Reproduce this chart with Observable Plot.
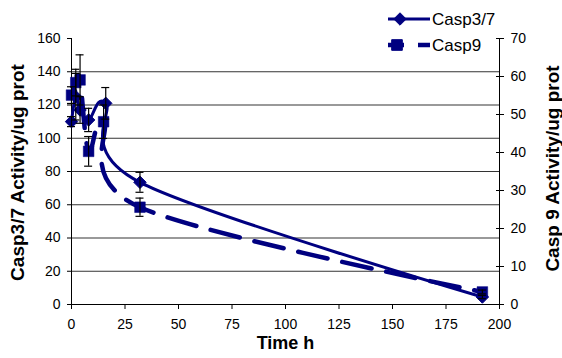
<!DOCTYPE html>
<html><head><meta charset="utf-8">
<script src="https://cdn.jsdelivr.net/npm/d3@7"></script>
<script src="https://cdn.jsdelivr.net/npm/@observablehq/plot@0.6"></script>
<style>
body{margin:0;background:#fff;font-family:"Liberation Sans",Arial,sans-serif}
#wrap{position:relative;width:562px;height:358px}
#legend{position:absolute;left:0;top:0}
</style></head><body>
<div id="wrap"><div id="chart"></div><svg id="legend" width="562" height="70"></svg></div>
<script>
// Casp3/7 series (left axis units)
const hours37 = [0, 2, 4, 8, 16, 32, 192];
const casp37 = [110, 125, 117, 111, 121, 73.5, 4.5];
const casp37Err = [3, 14, 8, 7, 9.5, 6, 1];
// Casp9 series (right axis units)
const hours9 = [0, 2, 4, 8, 15, 32, 192];
const casp9 = [55.1, 58.4, 59.1, 40.3, 48.1, 25.6, 3.3];
const casp9Err = [2.2, 3.5, 6.6, 3.9, 4.4, 2.4, 0.5];
// ticks and labels
const leftTicks = [0, 20, 40, 60, 80, 100, 120, 140, 160];
const rightTicks = [0, 10, 20, 30, 40, 50, 60, 70];
const xTicks = [0, 25, 50, 75, 100, 125, 150, 175, 200];
const seriesNames = ["Casp3/7", "Casp9"];
const xTitle = "Time h";
const leftTitle = "Casp3/7 Activity/ug prot";
const rightTitle = "Casp 9 Activity/ug prot";

const navy = "#000080";
const k = 160 / 70; // right axis -> left axis units

const rows37 = hours37.map((t, i) => ({t, v: casp37[i], e: casp37Err[i]}));
const rows9 = hours9.map((t, i) => ({t, v: casp9[i] * k, e: casp9Err[i] * k}));

const chart = Plot.plot({
  width: 562, height: 358,
  marginLeft: 71, marginRight: 63, marginTop: 38, marginBottom: 54,
  x: {domain: [0, 200]},
  y: {domain: [0, 160]},
  style: {fontFamily: "'Liberation Sans', Arial, sans-serif", fontSize: "14px", color: "#000", background: "#fff"},
  marks: [
    Plot.gridY(leftTicks.filter(d => d > 0 && d < 160), {stroke: "#000", strokeOpacity: 0.8}),
    Plot.ruleX([0], {stroke: "#000"}),
    Plot.ruleX([200], {stroke: "#000"}),
    Plot.ruleY([0], {stroke: "#000"}),
    Plot.axisY(leftTicks, {anchor: "left", tickSize: 4, tickPadding: 7, label: null, fontSize: 14}),
    Plot.axisY(rightTicks.map(d => d * k), {anchor: "right", tickSize: 4, tickPadding: 7, label: null, fontSize: 14, tickFormat: d => Math.round(d / k)}),
    Plot.axisY(rightTicks.map(d => d * k), {anchor: "right", tickSize: -4, label: null, tickFormat: () => ""}),
    Plot.axisX(xTicks, {anchor: "bottom", tickSize: 5, tickPadding: 10, label: null, fontSize: 14}),
    Plot.line(rows37, {x: "t", y: "v", stroke: navy, strokeWidth: 3, curve: "cardinal"}),
    Plot.line(rows9, {x: "t", y: "v", stroke: navy, strokeWidth: 4.5, strokeDasharray: "30,15", curve: "cardinal"}),
    Plot.dot(rows37, {x: "t", y: "v", symbol: "diamond2", r: 5.6, fill: navy, stroke: navy, strokeWidth: 1}),
    Plot.dot(rows9, {x: "t", y: "v", symbol: "square", r: 6, fill: navy, stroke: navy, strokeWidth: 0.5}),
    // error bars
    Plot.ruleX(rows37, {x: "t", y1: d => d.v - d.e, y2: d => d.v + d.e, stroke: "#000", strokeWidth: 1.2}),
    Plot.ruleY(rows37, {y: d => d.v + d.e, x1: "t", x2: "t", insetLeft: -4, insetRight: -4, stroke: "#000", strokeWidth: 1.2}),
    Plot.ruleY(rows37, {y: d => d.v - d.e, x1: "t", x2: "t", insetLeft: -4, insetRight: -4, stroke: "#000", strokeWidth: 1.2}),
    Plot.ruleX(rows9, {x: "t", y1: d => d.v - d.e, y2: d => d.v + d.e, stroke: "#000", strokeWidth: 1.2}),
    Plot.ruleY(rows9, {y: d => d.v + d.e, x1: "t", x2: "t", insetLeft: -4, insetRight: -4, stroke: "#000", strokeWidth: 1.2}),
    Plot.ruleY(rows9, {y: d => d.v - d.e, x1: "t", x2: "t", insetLeft: -4, insetRight: -4, stroke: "#000", strokeWidth: 1.2}),
    // titles
    Plot.text([leftTitle], {text: d => d, frameAnchor: "left", textAnchor: "middle", dx: -54, dy: 1, rotate: -90, fontSize: 19, fontWeight: "bold", fill: "#000"}),
    Plot.text([rightTitle], {text: d => d, frameAnchor: "right", textAnchor: "middle", dx: 53, dy: -3, rotate: -90, fontSize: 19, fontWeight: "bold", fill: "#000"}),
    Plot.text([xTitle], {text: d => d, frameAnchor: "bottom", dy: 44, fontSize: 18, fontWeight: "bold", fill: "#000"})
  ]
});
document.getElementById("chart").append(chart);

// legend (overlay)
const lg = d3.select("#legend");
const rowsY = [19, 45];
seriesNames.forEach((name, i) => {
  const y = rowsY[i];
  const line = lg.append("line").attr("x1", 388).attr("x2", 430).attr("y1", y).attr("y2", y)
    .attr("stroke", navy).attr("stroke-width", i === 0 ? 3 : 4.5);
  if (i === 1) line.attr("stroke-dasharray", "16,14,12");
  const sym = i === 0 ? d3.symbolDiamond2 : d3.symbolSquare;
  const size = i === 0 ? Math.PI * 5.6 * 5.6 : Math.PI * 36;
  lg.append("path").attr("d", d3.symbol(sym, size)()).attr("transform", `translate(${i === 0 ? 400 : 397},${y})`)
    .attr("fill", navy).attr("stroke", navy);
  lg.append("text").attr("x", 432).attr("y", y).attr("dy", "0.35em").attr("font-size", 17)
    .attr("font-family", "'Liberation Sans', Arial, sans-serif").text(name);
});
</script>
</body></html>
